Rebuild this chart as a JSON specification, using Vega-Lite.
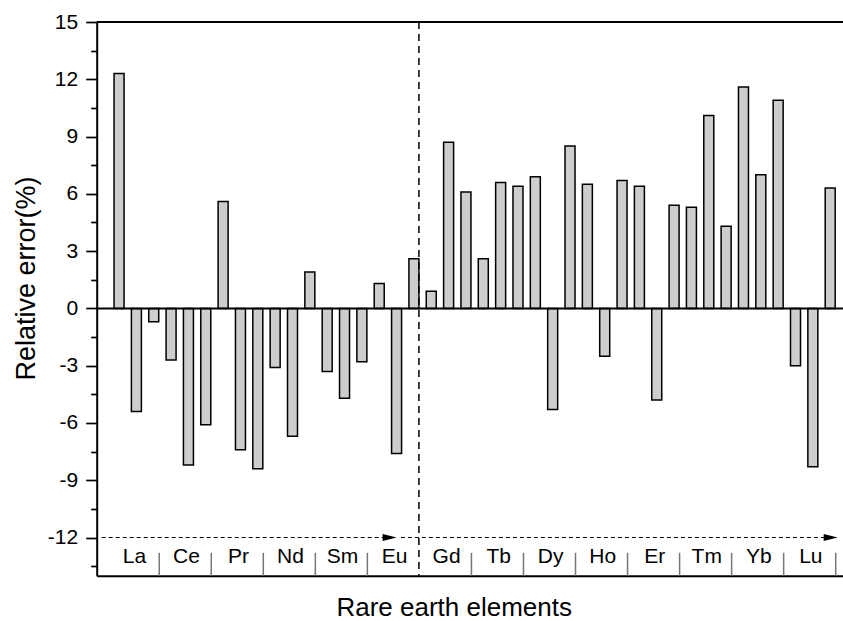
{
  "$schema": "https://vega.github.io/schema/vega-lite/v6.json",
  "autosize": "none",
  "width": 746.3,
  "height": 553.7,
  "padding": {"left": 96.7, "top": 22, "right": 0, "bottom": 45.3},
  "background": "white",
  "config": {
    "view": {"stroke": null},
    "font": "Liberation Sans",
    "axis": {"labelFont": "Liberation Sans", "titleFont": "Liberation Sans", "labelColor": "black", "titleColor": "black", "domainColor": "black", "tickColor": "black"}
  },
  "resolve": {"axis": {"y": "independent"}},
  "data": {
    "values": [
      {"element": "La", "pos": 0, "value": 12.3},
      {"element": "La", "pos": 1, "value": -5.4},
      {"element": "La", "pos": 2, "value": -0.7},
      {"element": "Ce", "pos": 3, "value": -2.7},
      {"element": "Ce", "pos": 4, "value": -8.2},
      {"element": "Ce", "pos": 5, "value": -6.1},
      {"element": "Pr", "pos": 6, "value": 5.6},
      {"element": "Pr", "pos": 7, "value": -7.4},
      {"element": "Pr", "pos": 8, "value": -8.4},
      {"element": "Nd", "pos": 9, "value": -3.1},
      {"element": "Nd", "pos": 10, "value": -6.7},
      {"element": "Nd", "pos": 11, "value": 1.9},
      {"element": "Sm", "pos": 12, "value": -3.3},
      {"element": "Sm", "pos": 13, "value": -4.7},
      {"element": "Sm", "pos": 14, "value": -2.8},
      {"element": "Eu", "pos": 15, "value": 1.3},
      {"element": "Eu", "pos": 16, "value": -7.6},
      {"element": "Eu", "pos": 17, "value": 2.6},
      {"element": "Gd", "pos": 18, "value": 0.9},
      {"element": "Gd", "pos": 19, "value": 8.7},
      {"element": "Gd", "pos": 20, "value": 6.1},
      {"element": "Tb", "pos": 21, "value": 2.6},
      {"element": "Tb", "pos": 22, "value": 6.6},
      {"element": "Tb", "pos": 23, "value": 6.4},
      {"element": "Dy", "pos": 24, "value": 6.9},
      {"element": "Dy", "pos": 25, "value": -5.3},
      {"element": "Dy", "pos": 26, "value": 8.5},
      {"element": "Ho", "pos": 27, "value": 6.5},
      {"element": "Ho", "pos": 28, "value": -2.5},
      {"element": "Ho", "pos": 29, "value": 6.7},
      {"element": "Er", "pos": 30, "value": 6.4},
      {"element": "Er", "pos": 31, "value": -4.8},
      {"element": "Er", "pos": 32, "value": 5.4},
      {"element": "Tm", "pos": 33, "value": 5.3},
      {"element": "Tm", "pos": 34, "value": 10.1},
      {"element": "Tm", "pos": 35, "value": 4.3},
      {"element": "Yb", "pos": 36, "value": 11.6},
      {"element": "Yb", "pos": 37, "value": 7.0},
      {"element": "Yb", "pos": 38, "value": 10.9},
      {"element": "Lu", "pos": 39, "value": -3.0},
      {"element": "Lu", "pos": 40, "value": -8.3},
      {"element": "Lu", "pos": 41, "value": 6.3}
    ]
  },
  "layer": [
    {
      "mark": {"type": "bar", "orient": "vertical", "size": 10, "fill": "#cdcdcd", "stroke": "black", "strokeWidth": 1.5},
      "encoding": {
        "x": {
          "field": "pos", "type": "quantitative",
          "scale": {"domain": [-1, 41.45], "nice": false, "zero": false},
          "axis": {
            "orient": "bottom", "domainWidth": 2, "ticks": false, "labels": false, "grid": false,
            "title": "Rare earth elements", "titleFontSize": 26, "titleFontWeight": "normal",
            "titleX": 357, "titleY": 39.5, "titleBaseline": "alphabetic", "titleAlign": "center"
          }
        },
        "y": {
          "field": "value", "type": "quantitative",
          "scale": {"domain": [-14, 15], "nice": false, "zero": false},
          "axis": {
            "orient": "left", "grid": false, "domainWidth": 2,
            "values": [-12, -9, -6, -3, 0, 3, 6, 9, 12, 15],
            "tickSize": 11, "tickWidth": 1.7,
            "labelExpr": "'' + datum.value",
            "labelFontSize": 21, "labelPadding": 8,
            "title": "Relative error(%)", "titleFontSize": 27, "titleFontWeight": "normal",
            "titlePadding": 7, "titleY": 256
          }
        },
        "y2": {"datum": 0}
      }
    },
    {
      "data": {"values": [{}]},
      "mark": {"type": "rule", "stroke": "black", "strokeWidth": 2},
      "encoding": {
        "y": {
          "datum": 0,
          "axis": {
            "orient": "left", "grid": false, "domain": false, "labels": false, "title": null,
            "values": [-13.5, -10.5, -7.5, -4.5, -1.5, 1.5, 4.5, 7.5, 10.5, 13.5],
            "tickSize": 6, "tickWidth": 1.7, "offset": 0
          }
        }
      }
    },
    {
      "data": {"values": [{}]},
      "mark": {"type": "rule", "stroke": "black", "strokeWidth": 2},
      "encoding": {"y": {"datum": 15, "axis": null}}
    },
    {
      "transform": [
        {"filter": "datum.element === 'Eu'"},
        {"aggregate": [{"op": "max", "field": "pos", "as": "edge"}], "groupby": ["element"]}
      ],
      "mark": {"type": "rule", "stroke": "black", "strokeWidth": 1.5, "strokeDash": [7, 5], "xOffset": 5},
      "encoding": {"x": {"field": "edge", "type": "quantitative"}}
    },
    {
      "transform": [
        {"filter": "datum.element !== 'Eu'"},
        {"aggregate": [{"op": "max", "field": "pos", "as": "edge"}], "groupby": ["element"]}
      ],
      "mark": {"type": "rule", "stroke": "#777777", "strokeWidth": 1.5, "xOffset": 5.5},
      "encoding": {
        "x": {"field": "edge", "type": "quantitative"},
        "y": {"datum": -14, "axis": null},
        "y2": {"datum": -12.8}
      }
    },
    {
      "transform": [
        {"aggregate": [{"op": "mean", "field": "pos", "as": "center"}], "groupby": ["element"]}
      ],
      "mark": {"type": "text", "fontSize": 21, "font": "Liberation Sans", "color": "black", "align": "center", "baseline": "middle", "xOffset": -2},
      "encoding": {
        "x": {"field": "center", "type": "quantitative"},
        "y": {"datum": -13, "axis": null},
        "text": {"field": "element"}
      }
    },
    {
      "data": {"values": [{}]},
      "mark": {"type": "rule", "stroke": "black", "strokeWidth": 1.2, "strokeDash": [4, 3]},
      "encoding": {
        "x": {"datum": -1},
        "x2": {"datum": 15.7},
        "y": {"datum": -12, "axis": null}
      }
    },
    {
      "data": {"values": [{}]},
      "mark": {"type": "rule", "stroke": "black", "strokeWidth": 1.2, "strokeDash": [4, 3]},
      "encoding": {
        "x": {"datum": 16.25},
        "x2": {"datum": 41.2},
        "y": {"datum": -12, "axis": null}
      }
    },
    {
      "data": {"values": [{}]},
      "mark": {"type": "point", "shape": "M -1 -0.5 L 1 0 L -1 0.5 Z", "size": 196, "filled": true, "fill": "black", "opacity": 1, "strokeWidth": 0},
      "encoding": {
        "x": {"datum": 15.6},
        "y": {"datum": -12, "axis": null}
      }
    },
    {
      "data": {"values": [{}]},
      "mark": {"type": "point", "shape": "M -1 -0.5 L 1 0 L -1 0.5 Z", "size": 196, "filled": true, "fill": "black", "opacity": 1, "strokeWidth": 0},
      "encoding": {
        "x": {"datum": 41.03},
        "y": {"datum": -12, "axis": null}
      }
    }
  ]
}
